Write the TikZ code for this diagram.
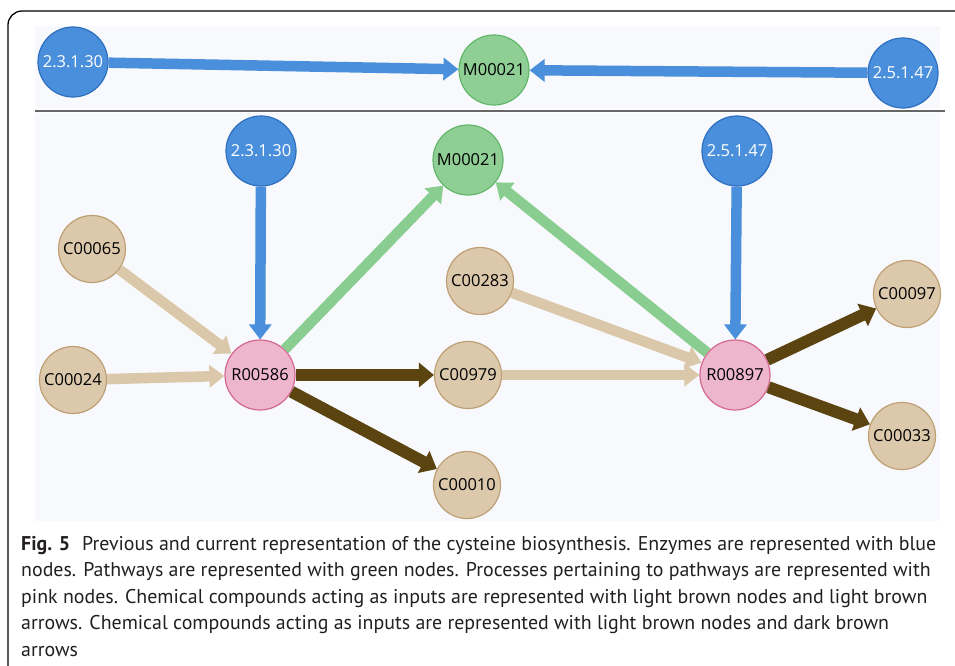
\documentclass[tikz,border=0pt]{standalone}
\usepackage{fontspec}
\setmainfont{PT Sans}
\newfontfamily\nodefont{Open Sans}
\usetikzlibrary{arrows.meta}
\definecolor{bluef}{HTML}{4A8FDC}
\definecolor{blued}{HTML}{2F6FBF}
\definecolor{greenf}{HTML}{8FCF95}
\definecolor{greend}{HTML}{62B66B}
\definecolor{pinkf}{HTML}{EEB6CD}
\definecolor{pinkd}{HTML}{D4688F}
\definecolor{tanf}{HTML}{DCC9AC}
\definecolor{tand}{HTML}{BF9F74}
\definecolor{lightarr}{HTML}{DBC8AA}
\definecolor{darkarr}{HTML}{5B4410}
\definecolor{greenarr}{HTML}{8ACD91}
\definecolor{bluearr}{HTML}{4A8FDC}
\definecolor{panel}{HTML}{F7F9FC}
\definecolor{captxt}{HTML}{231F20}
\tikzset{
  base/.style={circle, minimum size=70pt, inner sep=0pt, line width=1.2pt, font=\nodefont\fontsize{16.5}{17}\selectfont},
  enz/.style={base, fill=bluef, draw=blued, text=white},
  path/.style={base, fill=greenf, draw=greend, text=black},
  proc/.style={base, fill=pinkf, draw=pinkd, text=black},
  comp/.style={base, minimum size=67pt, fill=tanf, draw=tand, text=black},
  arr/.style={line width=10.5pt, -{Triangle[length=15pt, width=22pt]}},
  bluea/.style={arr, draw=bluearr},
  lighta/.style={arr, draw=lightarr},
  darka/.style={arr, line width=12pt, draw=darkarr, -{Triangle[length=15pt, width=24pt]}},
  greena/.style={arr, draw=greenarr},
}
\begin{document}
\begin{tikzpicture}[x=1pt, y=-1pt]
\useasboundingbox (0,0) rectangle (955,666);
\fill[white] (0,0) rectangle (955,666);
% frame
\draw[line width=1.3pt, rounded corners=14pt] (8,670) -- (8,11) -- (960,11);
% panels
\fill[panel] (35,26) rectangle (940,109);
\fill[panel] (35,113) rectangle (940,521);
\draw[gray!80!black, line width=1.2pt] (35,111) -- (945,111);
% top panel nodes
\node[enz] (te1) at (73,62) {2.3.1.30};
\node[path] (tm) at (494,70) {M00021};
\node[enz] (te2) at (903,73) {2.5.1.47};
\draw[bluea] (te1) -- (tm);
\draw[bluea] (te2) -- (tm);
% bottom panel nodes
\node[enz] (e1) at (261,151) {2.3.1.30};
\node[path] (m) at (468,160) {M00021};
\node[enz] (e2) at (737,151) {2.5.1.47};
\node[comp] (c65) at (92,249) {C00065};
\node[comp] (c24) at (73,380) {C00024};
\node[proc] (r586) at (260,375) {R00586};
\node[comp] (c979) at (468,375) {C00979};
\node[comp] (c10) at (467,485) {C00010};
\node[comp] (c283) at (480,281) {C00283};
\node[proc] (r897) at (735,375) {R00897};
\node[comp] (c97) at (907,294) {C00097};
\node[comp] (c33) at (902,436) {C00033};
% edges
\draw[bluea] (e1) -- (r586);
\draw[bluea] (e2) -- (r897);
\draw[lighta] (c65) -- (r586);
\draw[lighta] (c24) -- (r586);
\draw[greena] (r586) -- (m);
\draw[darka] (r586) -- (c979);
\draw[darka] (r586) -- (c10);
\draw[lighta] (c283) -- (r897);
\draw[lighta] (c979) -- (r897);
\draw[greena] (r897) -- (m);
\draw[darka] (r897) -- (c97);
\draw[darka] (r897) -- (c33);
% caption
\node[anchor=north west, inner sep=0pt, align=left, text=captxt, font=\fontsize{19.9}{26.5}\selectfont] (cap) at (21,536)
{\textbf{Fig. 5}\hspace{0.6em}Previous and current representation of the cysteine biosynthesis. Enzymes are represented with blue\\
nodes. Pathways are represented with green nodes. Processes pertaining to pathways are represented with\\
pink nodes. Chemical compounds acting as inputs are represented with light brown nodes and light brown\\
arrows. Chemical compounds acting as inputs are represented with light brown nodes and dark brown\\
arrows};
\end{tikzpicture}
\end{document}
